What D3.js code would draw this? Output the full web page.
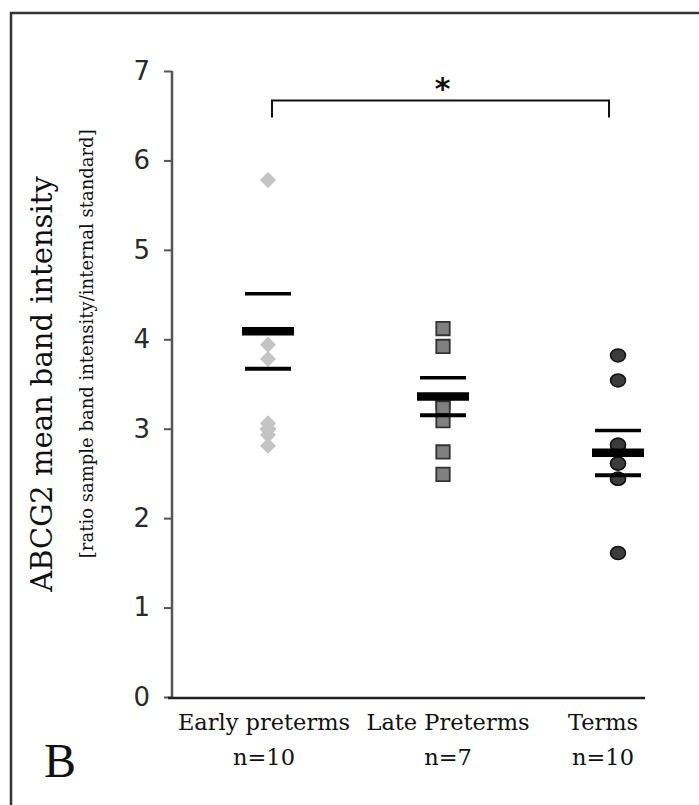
<!DOCTYPE html>
<html>
<head>
<meta charset="utf-8">
<script src="https://cdn.jsdelivr.net/npm/d3@7"></script>
<style>
  body { margin: 0; background: #fff; }
  svg { display: block; }
</style>
</head>
<body>
<svg id="chart"></svg>
<script>
// Groups and sample sizes
const groups = ['Early preterms', 'Late Preterms', 'Terms'];
const groupN = ['n=10', 'n=7', 'n=10'];

// Individual values (overlapping points repeated)
const earlyVals = [5.78, 3.94, 3.78, 3.06, 3.0, 2.99, 2.93, 2.81, 2.99, 3.0];
const lateVals = [4.12, 3.92, 3.30, 3.23, 3.09, 2.74, 2.49];
const termVals = [3.82, 3.54, 2.82, 2.75, 2.61, 2.44, 2.44, 1.61, 2.61, 2.82];

// Mean and standard error per group
const meanVals = [4.09, 3.36, 2.73];
const seVals = [0.42, 0.21, 0.25];

const yTicks = [0, 1, 2, 3, 4, 5, 6, 7];

const config = {
  width: 699,
  height: 805,
  margin: { top: 71, right: 54, bottom: 108, left: 172 }
};

const width = config.width;
const height = config.height;
const plotLeft = config.margin.left;
const plotRight = width - config.margin.right;
const plotTop = config.margin.top;
const plotBottom = height - config.margin.bottom;

const svg = d3.select('#chart')
  .attr('width', width)
  .attr('height', height);

// Outer frame (cut off at right and bottom like the source image)
svg.append('rect')
  .attr('x', 11)
  .attr('y', 13)
  .attr('width', width + 20)
  .attr('height', height + 20)
  .attr('fill', 'none')
  .attr('stroke', '#333')
  .attr('stroke-width', 2.5);

const yScale = d3.scaleLinear()
  .domain([0, 7])
  .range([plotBottom, plotTop]);

const xScale = d3.scalePoint()
  .domain(groups)
  .range([plotLeft + 96, plotRight - 27]);

// Y axis
const yAxis = d3.axisLeft(yScale)
  .tickValues(yTicks)
  .tickSize(8)
  .tickPadding(14)
  .tickFormat(d3.format('d'));

const yAxisG = svg.append('g')
  .attr('transform', `translate(${plotLeft},0)`)
  .call(yAxis);

yAxisG.select('.domain')
  .attr('d', `M0,${plotTop}V${plotBottom}`)
  .attr('stroke', '#555')
  .attr('stroke-width', 2.5);
yAxisG.selectAll('.tick line')
  .attr('stroke', '#555')
  .attr('stroke-width', 2);
yAxisG.selectAll('.tick text')
  .attr('fill', '#2a2a2a')
  .style('font-family', '"DejaVu Sans", sans-serif')
  .style('font-size', '26px');

// X axis line
svg.append('line')
  .attr('x1', plotLeft - 4)
  .attr('x2', plotRight)
  .attr('y1', yScale(0) + 1)
  .attr('y2', yScale(0) + 1)
  .attr('stroke', '#222')
  .attr('stroke-width', 2.5);

// Category labels
const labelOffset = [-4, 5, -15];
const xLabels = svg.append('g')
  .style('font-family', '"DejaVu Serif", serif')
  .style('font-size', '22.5px')
  .attr('fill', '#111')
  .attr('text-anchor', 'middle');

xLabels.selectAll('.cat')
  .data(groups)
  .join('text')
  .attr('class', 'cat')
  .attr('x', (d, i) => xScale(d) + labelOffset[i])
  .attr('y', plotBottom + 33)
  .text(d => d);

xLabels.selectAll('.nlab')
  .data(groupN)
  .join('text')
  .attr('class', 'nlab')
  .attr('x', (d, i) => xScale(groups[i]) + labelOffset[i])
  .attr('y', plotBottom + 68)
  .text(d => d);

// Y axis titles
svg.append('text')
  .attr('transform', `translate(52,${yScale(3.5)}) rotate(-90)`)
  .attr('text-anchor', 'middle')
  .style('font-family', '"DejaVu Serif", serif')
  .style('font-size', '29px')
  .attr('fill', '#111')
  .text('ABCG2 mean band intensity');

svg.append('text')
  .attr('transform', `translate(93,${yScale(3.95)}) rotate(-90)`)
  .attr('text-anchor', 'middle')
  .style('font-family', '"DejaVu Serif", serif')
  .style('font-size', '18px')
  .attr('fill', '#111')
  .text('[ratio sample band intensity/internal standard]');

// Mean and SE bars
const meanW = 52;
const seW = 46;
const bars = svg.append('g');

bars.selectAll('.se-up')
  .data(groups)
  .join('line')
  .attr('class', 'se-up')
  .attr('x1', d => xScale(d) - seW / 2)
  .attr('x2', d => xScale(d) + seW / 2)
  .attr('y1', (d, i) => yScale(meanVals[i] + seVals[i]))
  .attr('y2', (d, i) => yScale(meanVals[i] + seVals[i]))
  .attr('stroke', '#000')
  .attr('stroke-width', 3.5);

// Points
const pointsG = svg.append('g');

pointsG.selectAll('.early')
  .data(earlyVals)
  .join('path')
  .attr('class', 'early')
  .attr('d', d3.symbol().type(d3.symbolSquare).size(130))
  .attr('transform', d => `translate(${xScale(groups[0])},${yScale(d)}) rotate(45)`)
  .attr('fill', '#c4c4c4');

pointsG.selectAll('.late')
  .data(lateVals)
  .join('path')
  .attr('class', 'late')
  .attr('d', d3.symbol().type(d3.symbolSquare).size(180))
  .attr('transform', d => `translate(${xScale(groups[1])},${yScale(d)})`)
  .attr('fill', '#808080')
  .attr('stroke', '#333')
  .attr('stroke-width', 1.8);

pointsG.selectAll('.term')
  .data(termVals)
  .join('ellipse')
  .attr('class', 'term')
  .attr('cx', xScale(groups[2]))
  .attr('cy', d => yScale(d))
  .attr('rx', 7.5)
  .attr('ry', 6.5)
  .attr('fill', '#3c3c3c')
  .attr('stroke', '#111')
  .attr('stroke-width', 1.5);

// Mean and lower SE drawn on top of the points
const barsTop = svg.append('g');

barsTop.selectAll('.mean')
  .data(groups)
  .join('line')
  .attr('class', 'mean')
  .attr('x1', d => xScale(d) - meanW / 2)
  .attr('x2', d => xScale(d) + meanW / 2)
  .attr('y1', (d, i) => yScale(meanVals[i]))
  .attr('y2', (d, i) => yScale(meanVals[i]))
  .attr('stroke', '#000')
  .attr('stroke-width', 8.5);

barsTop.selectAll('.se-low')
  .data(groups)
  .join('line')
  .attr('class', 'se-low')
  .attr('x1', d => xScale(d) - seW / 2)
  .attr('x2', d => xScale(d) + seW / 2)
  .attr('y1', (d, i) => yScale(meanVals[i] - seVals[i]))
  .attr('y2', (d, i) => yScale(meanVals[i] - seVals[i]))
  .attr('stroke', '#000')
  .attr('stroke-width', 4);

// Significance bracket between Early preterms and Terms
const bracketY = yScale(6.67);
const bracketDrop = 17;
const bx1 = xScale(groups[0]) + 4;
const bx2 = xScale(groups[2]) - 9;

svg.append('path')
  .attr('d', `M${bx1},${bracketY + bracketDrop}V${bracketY}H${bx2}V${bracketY + bracketDrop}`)
  .attr('fill', 'none')
  .attr('stroke', '#111')
  .attr('stroke-width', 2);

svg.append('text')
  .attr('x', (bx1 + bx2) / 2 + 2)
  .attr('y', bracketY - 2)
  .attr('text-anchor', 'middle')
  .style('font-family', '"DejaVu Sans", sans-serif')
  .style('font-size', '30px')
  .style('font-weight', 'bold')
  .attr('fill', '#111')
  .text('*');

// Panel letter
svg.append('text')
  .attr('x', 44)
  .attr('y', 777)
  .style('font-family', '"Liberation Serif", serif')
  .style('font-size', '48px')
  .attr('fill', '#111')
  .text('B');
</script>
</body>
</html>
